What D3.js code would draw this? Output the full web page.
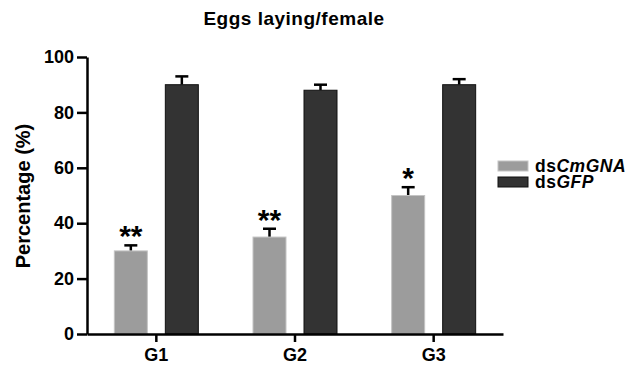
<!DOCTYPE html>
<html>
<head>
<meta charset="utf-8">
<style>
  body { margin: 0; background: #fff; }
  svg { font-family: "Liberation Sans", Arial, sans-serif; font-weight: bold; }
  .axis .domain, .axis .tick line { stroke: #000; stroke-width: 2.5px; }
  .axis .tick text { font-size: 18px; font-weight: bold; fill: #000; }
</style>
</head>
<body>
<svg width="630" height="367"></svg>
<script src="https://d3js.org/d3.v7.min.js"></script>
<script>
const groups = ["G1", "G2", "G3"];
const seriesNames = ["dsCmGNA", "dsGFP"];
const cmgna = [30, 35, 50];
const cmgnaErr = [2, 3, 3];
const gfp = [90, 88, 90];
const gfpErr = [3, 2, 2];
const stars = ["**", "**", "*"];
const yTicks = [0, 20, 40, 60, 80, 100];

const svg = d3.select("svg");
const colors = { dsCmGNA: "#9c9c9c", dsGFP: "#333333" };
const strokes = { dsCmGNA: "#c4c4c4", dsGFP: "#111" };

const x0 = d3.scaleBand().domain(groups).range([87, 503]).padding(0);
const bw = x0.bandwidth();
const x1 = d3.scaleBand().domain(seriesNames)
  .range([bw / 2 - 42.5, bw / 2 + 42.5]).paddingInner(1 / 3);
const y = d3.scaleLinear().domain([0, 100]).range([334, 57]);

const rows = groups.map((g, i) => ({
  g, star: stars[i],
  bars: [
    { key: "dsCmGNA", v: cmgna[i], e: cmgnaErr[i] },
    { key: "dsGFP", v: gfp[i], e: gfpErr[i] }
  ]
}));

const grp = svg.append("g").selectAll("g").data(rows).join("g")
  .attr("transform", d => `translate(${x0(d.g)},0)`);

const bar = grp.selectAll("g.bar").data(d => d.bars).join("g").attr("class", "bar");

// error bars (upper only)
bar.append("line")
  .attr("x1", d => x1(d.key) + x1.bandwidth() / 2)
  .attr("x2", d => x1(d.key) + x1.bandwidth() / 2)
  .attr("y1", d => y(d.v))
  .attr("y2", d => y(d.v + d.e))
  .attr("stroke", "#000").attr("stroke-width", 2.5);
bar.append("line")
  .attr("x1", d => x1(d.key) + x1.bandwidth() / 2 - 6.5)
  .attr("x2", d => x1(d.key) + x1.bandwidth() / 2 + 6.5)
  .attr("y1", d => y(d.v + d.e))
  .attr("y2", d => y(d.v + d.e))
  .attr("stroke", "#000").attr("stroke-width", 2.5);

bar.append("rect")
  .attr("x", d => x1(d.key) + 0.5)
  .attr("width", x1.bandwidth() - 1)
  .attr("y", d => y(d.v))
  .attr("height", d => y(0) - y(d.v))
  .attr("fill", d => colors[d.key])
  .attr("stroke", d => strokes[d.key])
  .attr("stroke-width", 1);

// significance stars above the dsCmGNA bars
grp.append("text")
  .attr("x", x1("dsCmGNA") + x1.bandwidth() / 2)
  .attr("y", (d, i) => y(cmgna[i] + cmgnaErr[i]) + 1)
  .attr("text-anchor", "middle")
  .attr("font-size", 30)
  .text(d => d.star);

// axes
svg.append("g").attr("class", "axis")
  .attr("transform", "translate(87,0)")
  .call(d3.axisLeft(y).tickValues(yTicks).tickSize(10).tickSizeOuter(0).tickPadding(3));

svg.append("g").attr("class", "axis")
  .attr("transform", "translate(0,334)")
  .call(d3.axisBottom(x0).tickSize(8).tickSizeOuter(0).tickPadding(6));

// titles
svg.append("text")
  .attr("x", 294).attr("y", 25)
  .attr("text-anchor", "middle").attr("font-size", 19)
  .attr("letter-spacing", 0.5)
  .text("Eggs laying/female");

svg.append("text")
  .attr("transform", "translate(30,196) rotate(-90)")
  .attr("text-anchor", "middle").attr("font-size", 20)
  .text("Percentage (%)");

// legend
const leg = svg.append("g").selectAll("g").data(seriesNames).join("g")
  .attr("transform", (d, i) => `translate(498,${161 + i * 16})`);
leg.append("rect")
  .attr("width", 30).attr("height", 10)
  .attr("fill", d => colors[d]).attr("stroke", d => strokes[d]);
leg.append("text")
  .attr("x", 37).attr("y", 11).attr("font-size", 17.5)
  .attr("letter-spacing", 0.5)
  .call(t => {
    t.append("tspan").text("ds");
    t.append("tspan").attr("font-style", "italic").text(d => d.slice(2));
  });
</script>
</body>
</html>
